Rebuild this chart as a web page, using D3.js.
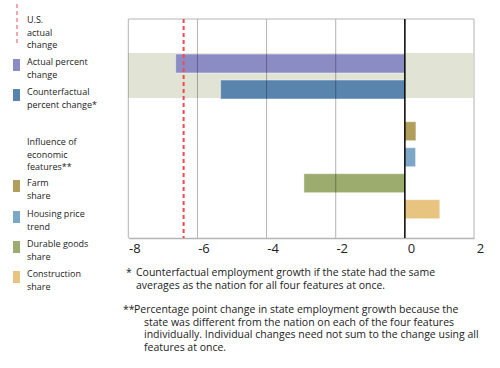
<!DOCTYPE html>
<html>
<head>
<meta charset="utf-8">
<script src="https://cdn.jsdelivr.net/npm/d3@7"></script>
<style>
  html, body { margin: 0; padding: 0; background: #fff; }
  svg { display: block; }
  text { font-family: "Open Sans", sans-serif; fill: #222; }
</style>
</head>
<body>
<svg id="chart" width="500" height="368"></svg>
<script>
// ---- data ----
const topCategories = ["Actual percent change", "Counterfactual percent change*"];
const topValues = [-6.63, -5.33];
const featureCategories = ["Farm share", "Housing price trend", "Durable goods share", "Construction share"];
const featureValues = [0.32, 0.31, -2.92, 1.01];
const usActualChange = -6.4;
const xTickValues = [-8, -6, -4, -2, 0, 2];
const xTickLabels = ["-8", "-6", "-4", "-2", "0", "2"];

const colors = {
  "Actual percent change": "#8c8cc5",
  "Counterfactual percent change*": "#5884ae",
  "Farm share": "#b19e5b",
  "Housing price trend": "#7ca7c7",
  "Durable goods share": "#9cab6e",
  "Construction share": "#e7c47f"
};

const legendItems = [
  { type: "line", lines: ["U.S.", "actual", "change"], y: 20 },
  { type: "swatch", key: "Actual percent change", lines: ["Actual percent", "change"], y: 62 },
  { type: "swatch", key: "Counterfactual percent change*", lines: ["Counterfactual", "percent change*"], y: 92 },
  { type: "header", lines: ["Influence of", "economic", "features**"], y: 142 },
  { type: "swatch", key: "Farm share", lines: ["Farm", "share"], y: 183 },
  { type: "swatch", key: "Housing price trend", lines: ["Housing price", "trend"], y: 214 },
  { type: "swatch", key: "Durable goods share", lines: ["Durable goods", "share"], y: 244 },
  { type: "swatch", key: "Construction share", lines: ["Construction", "share"], y: 274 }
];

const footnote1 = ["Counterfactual employment growth if the state had the same",
                   "averages as the nation for all four features at once."];
const footnote2 = ["Percentage point change in state employment growth because the",
                   "state was different from the nation on each of the four features",
                   "individually. Individual changes need not sum to the change using all",
                   "features at once."];

// ---- layout ----
const svg = d3.select("#chart");
const plotTop = 19, plotBottom = 238;
const x = d3.scaleLinear().domain([-8, 2]).range([128.3, 474]);

const yTop = d3.scaleBand().domain(topCategories).range([47, 106]).paddingInner(0.27).paddingOuter(0.27);
const yFeat = d3.scaleBand().domain(featureCategories).range([114.7, 225.7]).paddingInner(0.27).paddingOuter(0.27);

// highlight band behind top group
svg.append("rect")
  .attr("x", x(-8)).attr("width", x(2) - x(-8) - 1)
  .attr("y", yTop(topCategories[0]) - 1)
  .attr("height", yTop(topCategories[1]) + yTop.bandwidth() - yTop(topCategories[0]))
  .attr("fill", "#e1e4d5");

// bars
function drawBars(cats, vals, y) {
  svg.append("g").selectAll("rect").data(cats).join("rect")
    .attr("x", (d, i) => x(Math.min(0, vals[i])))
    .attr("width", (d, i) => Math.abs(x(vals[i]) - x(0)))
    .attr("y", d => y(d))
    .attr("height", y.bandwidth())
    .attr("fill", d => colors[d])
    .attr("stroke", "#ffffff").attr("stroke-opacity", 0.45).attr("stroke-width", 1);
}
drawBars(topCategories, topValues, yTop);
drawBars(featureCategories, featureValues, yFeat);

// gridlines (on top, translucent)
svg.append("g").selectAll("line").data(xTickValues.filter(v => v !== 0)).join("line")
  .attr("x1", d => x(d)).attr("x2", d => x(d))
  .attr("y1", plotTop).attr("y2", plotBottom)
  .attr("stroke", "#000").attr("stroke-opacity", 0.3).attr("stroke-width", 1);

// top frame line
svg.append("line").attr("x1", x(-8)).attr("x2", x(2)).attr("y1", plotTop).attr("y2", plotTop)
  .attr("stroke", "#b4b4b4").attr("stroke-width", 1);

// x axis
const xAxis = d3.axisBottom(x).tickValues(xTickValues).tickSize(0).tickPadding(6)
  .tickFormat((d, i) => xTickLabels[i]);
const axisG = svg.append("g").attr("transform", `translate(0,${plotBottom})`).call(xAxis);
axisG.select(".domain").attr("stroke", "#b4b4b4").attr("stroke-width", 1.5);
axisG.selectAll("text")
  .attr("dx", 6)
  .style("font-family", "Open Sans, sans-serif").style("font-size", "13px").attr("fill", "#222");

// zero line
svg.append("line").attr("x1", x(0)).attr("x2", x(0)).attr("y1", plotTop).attr("y2", plotBottom)
  .attr("stroke", "#000").attr("stroke-width", 1.5);

// US actual change dashed line
svg.append("line").attr("x1", x(usActualChange)).attr("x2", x(usActualChange))
  .attr("y1", plotTop).attr("y2", plotBottom)
  .attr("stroke", "#ee4a50").attr("stroke-width", 2).attr("stroke-dasharray", "4,3");

// ---- legend ----
const lg = svg.append("g").style("font-size", "9px");
const lineH = 12.3;
legendItems.forEach(item => {
  if (item.type === "line") {
    lg.append("line").attr("x1", 17).attr("x2", 17).attr("y1", 4).attr("y2", 46)
      .attr("stroke", "#f28a90").attr("stroke-width", 1.5).attr("stroke-dasharray", "4,3");
  } else if (item.type === "swatch") {
    lg.append("rect").attr("x", 13).attr("y", item.y - 3).attr("width", 7).attr("height", 12)
      .attr("fill", colors[item.key]);
  }
  const t = lg.append("text").attr("x", 27).attr("y", item.y + 3.2);
  item.lines.forEach((l, i) => {
    t.append("tspan").attr("x", 27).attr("y", item.y + 3.2 + i * lineH).text(l);
  });
});

// ---- footnotes ----
const fnSize = 10.5, fnLine = 12.5;
const fn = svg.append("g").style("font-size", fnSize + "px");
const t1 = fn.append("text").attr("x", 126).attr("y", 276);
t1.append("tspan").text("* ");
footnote1.forEach((l, i) => t1.append("tspan").attr("x", 136).attr("y", 276 + i * fnLine).text(l));
const t2 = fn.append("text").attr("x", 123).attr("y", 313);
t2.append("tspan").text("**");
footnote2.forEach((l, i) => t2.append("tspan").attr("x", i === 0 ? 134 : 144).attr("y", 313 + i * fnLine).text(l));
</script>
</body>
</html>
